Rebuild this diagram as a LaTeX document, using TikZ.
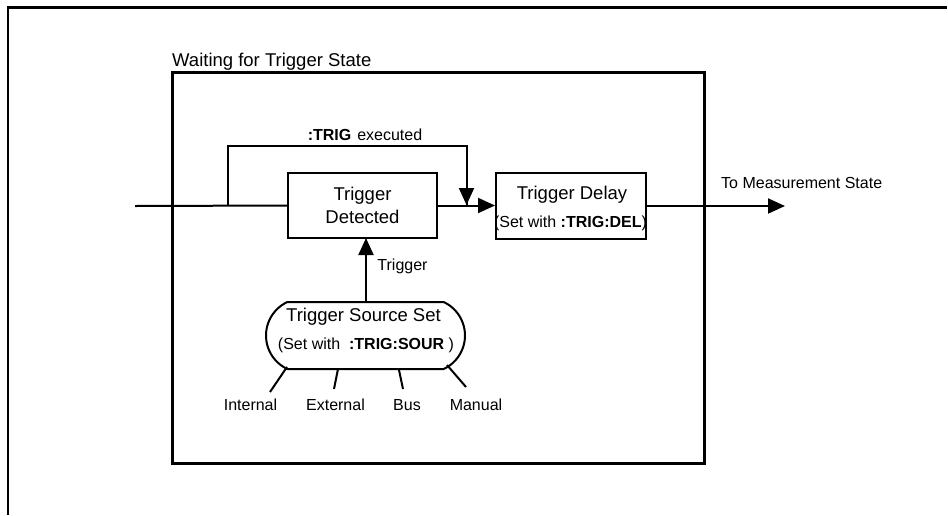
\documentclass[tikz,border=0pt]{standalone}
\usepackage{fontspec}
\setmainfont{Liberation Sans}
\usetikzlibrary{arrows.meta,shapes.misc}
\newcommand{\bigtxt}{\fontsize{18.5}{22.5}\selectfont}
\newcommand{\smtxt}{\fontsize{16}{19}\selectfont}
\tikzset{
  boxline/.style={line width=2pt},
  procbox/.style={draw, boxline, rectangle, inner sep=0pt},
  wire/.style={line width=2pt},
  arr/.style={wire, -{Triangle[length=17pt,width=15pt]}},
  lbl/.style={font=\smtxt, inner sep=0pt},
  blbl/.style={font=\bigtxt, inner sep=0pt},
}
\begin{document}
\begin{tikzpicture}[x=1pt,y=-1pt]
\useasboundingbox (0,0) rectangle (948,515);
% outer frame
\draw[line width=2.5pt] (8,515) -- (8,7.5) -- (947,7.5);
% inner state box
\node[procbox, line width=2.2pt, minimum width=532pt, minimum height=391pt] (state) at (438.5,268) {};
\node[font=\fontsize{18.5}{22}\selectfont, anchor=base west, inner sep=0pt] (title) at (172,66) {Waiting for Trigger State};
% Trigger Detected
\node[procbox, minimum width=149pt, minimum height=65pt, align=center, font=\bigtxt] (td) at (362.5,205.5) {Trigger\\Detected};
% Trigger Delay
\node[procbox, minimum width=150pt, minimum height=66pt] (dl) at (571,206) {};
\node[blbl] (dlt) at (572,195) {Trigger Delay};
\node[lbl] (dls) at (570.5,223) {(Set with \textbf{:TRIG:DEL})};
% Trigger Source Set
\node[draw, boxline, rounded rectangle, rounded rectangle arc length=130, minimum width=199pt, minimum height=67pt, inner sep=0pt] (tss) at (365.5,335.5) {};
\node[blbl] (tsst) at (363.5,317) {Trigger Source Set};
\node[lbl] (tsss) at (366,345) {(Set with\ \ \textbf{:TRIG:SOUR} )};
% coordinates
\coordinate (in) at (135,206);
\coordinate (bp) at (228,206);
\coordinate (mj) at (466.5,205);
\coordinate (out) at (785,206);
% main line
\draw[wire] (in) -- (td.west);
\draw[wire] (bp) -- (228,146) -| (mj);
\draw[arr] (228,146) -| (mj);
\draw[arr] (td.east) -- (td.east -| dl.west);
\draw[arr] (dl.east |- out) -- (out);
\node[lbl, anchor=west] (tms) at (721,183) {To Measurement State};
\node[lbl] (te) at (365,135) {\textbf{:TRIG}\hspace{6pt}executed};
% trigger arrow
\draw[arr] (tss.north -| 366,0) -- (366,238);
\node[lbl] (trg) at (402.5,266) {Trigger};
% legs
\node[lbl] (int) at (250.5,405) {Internal};
\node[lbl] (ext) at (335.5,405) {External};
\node[lbl] (bus) at (407,405) {Bus};
\node[lbl] (man) at (476,405) {Manual};
\coordinate (l1) at (287,367);
\coordinate (l2) at (338,369);
\coordinate (l3) at (399,370);
\coordinate (l4) at (447,365);
\draw[wire] (l1) -- (270,392);
\draw[wire] (l2) -- (334,389);
\draw[wire] (l3) -- (403,389);
\draw[wire] (l4) -- (466,387);
\end{tikzpicture}
\end{document}
